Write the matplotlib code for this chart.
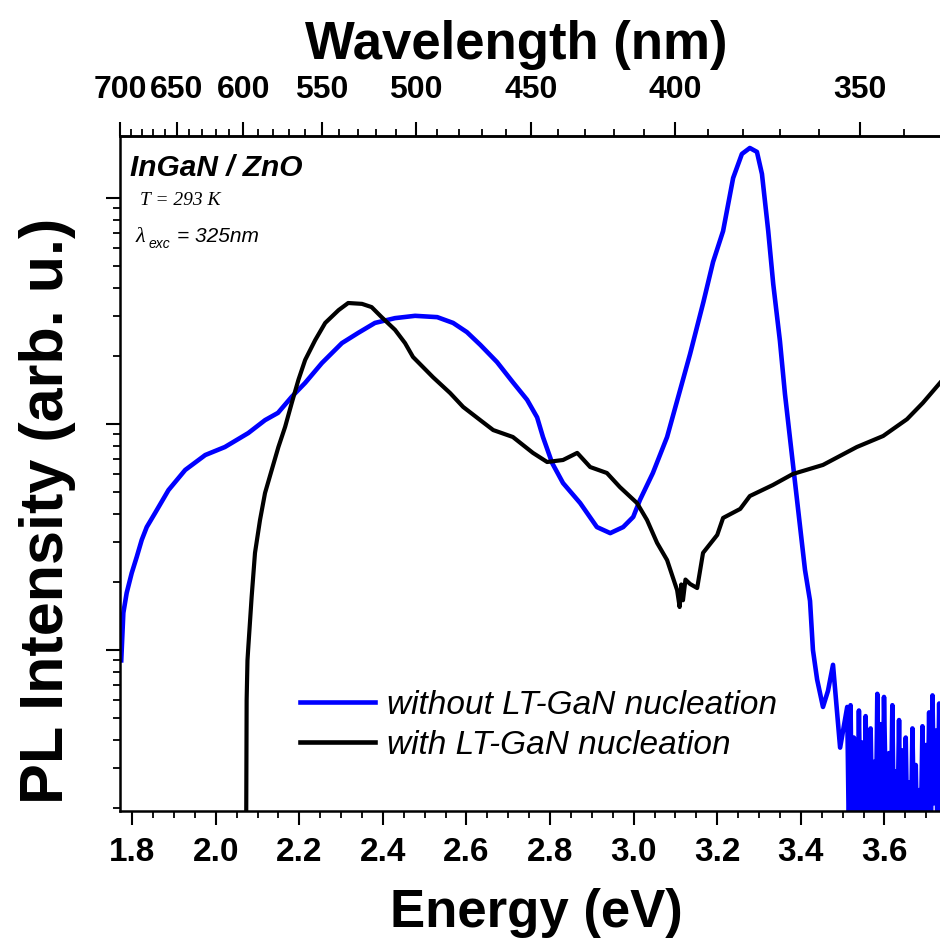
import numpy as np
import matplotlib
matplotlib.use("Agg")
import matplotlib.pyplot as plt
from matplotlib.ticker import FixedLocator, MultipleLocator, LogLocator, NullFormatter

plt.rcParams['font.family'] = ['Liberation Sans', 'DejaVu Sans']

# PL spectrum, sample grown without LT-GaN nucleation layer
blue_E = [1.774, 1.779, 1.787, 1.799, 1.811, 1.823, 1.835, 1.855, 1.887, 1.927,
          1.975, 2.022, 2.078, 2.118, 2.149, 2.182, 2.214, 2.254, 2.302, 2.341,
          2.381, 2.429, 2.477, 2.530, 2.568, 2.601, 2.633, 2.673, 2.711, 2.745,
          2.769, 2.783, 2.805, 2.831, 2.872, 2.912, 2.944, 2.975, 2.999, 3.015,
          3.046, 3.080, 3.111, 3.135, 3.167, 3.190, 3.214, 3.238, 3.259, 3.278,
          3.295, 3.307, 3.322, 3.334, 3.350, 3.362, 3.374, 3.386, 3.398, 3.410,
          3.422, 3.429, 3.439, 3.453, 3.465, 3.477, 3.494, 3.511]
blue_I = [9.0, 14.6, 17.9, 21.9, 25.8, 30.7, 35.0, 40.4, 51.0, 62.6,
          72.9, 79.1, 91.2, 104, 112, 132, 152, 186, 228, 253,
          280, 294, 301, 297, 280, 255, 224, 188, 153, 128,
          107, 87.6, 67.2, 54.8, 44.7, 35.0, 32.9, 35.0, 38.8, 46.1,
          60.7, 87.6, 141, 204, 347, 521, 714, 1225, 1566, 1664,
          1599, 1277, 714, 416, 233, 136, 86.7, 55.4, 35.4, 22.6,
          16.5, 10.0, 7.4, 5.6, 6.6, 8.6, 3.7, 5.6]

# noise floor above the band edge (same sample)
tail_E = [3.515, 3.519, 3.523, 3.527, 3.531, 3.535, 3.539, 3.543, 3.547, 3.551,
          3.555, 3.559, 3.563, 3.567, 3.571, 3.575, 3.579, 3.583, 3.587, 3.591,
          3.595, 3.599, 3.603, 3.607, 3.611, 3.615, 3.619, 3.623, 3.627, 3.631,
          3.635, 3.639, 3.643, 3.647, 3.651, 3.655, 3.659, 3.663, 3.667, 3.671,
          3.675, 3.679, 3.683, 3.687, 3.691, 3.695, 3.699, 3.703, 3.707, 3.711,
          3.715, 3.719, 3.723, 3.727, 3.731, 3.735]
tail_I = [1.5, 5.7, 1.3, 4.1, 2.2, 1.4, 5.4, 1.6, 3.9, 1.2,
          5.1, 2.0, 1.4, 4.5, 1.7, 3.2, 1.3, 6.4, 1.5, 4.7,
          1.2, 6.2, 2.4, 1.4, 3.5, 1.6, 5.7, 1.3, 2.9, 1.5,
          4.9, 1.2, 3.6, 1.7, 4.1, 1.4, 2.6, 1.3, 4.5, 1.6,
          3.1, 1.2, 2.4, 1.5, 4.6, 1.3, 3.8, 1.6, 5.3, 1.4,
          6.3, 2.1, 4.4, 1.5, 5.8, 1.6]

# PL spectrum, sample grown with LT-GaN nucleation layer
black_E = [2.0715, 2.074, 2.076, 2.078, 2.086, 2.094, 2.106, 2.118, 2.134, 2.150,
           2.166, 2.182, 2.198, 2.214, 2.238, 2.262, 2.294, 2.317, 2.350, 2.373,
           2.397, 2.429, 2.453, 2.472, 2.520, 2.561, 2.592, 2.633, 2.664, 2.711,
           2.759, 2.793, 2.831, 2.865, 2.896, 2.936, 2.967, 3.008, 3.032, 3.056,
           3.080, 3.104, 3.110, 3.114, 3.118, 3.124, 3.135, 3.152, 3.166, 3.200,
           3.214, 3.255, 3.278, 3.333, 3.381, 3.453, 3.534, 3.597, 3.654, 3.692,
           3.733]
black_I = [0.3, 6.0, 9.0, 10.3, 17.2, 26.9, 37.6, 49.5, 62.6, 79.1,
           97, 124, 157, 192, 235, 280, 319, 343, 340, 329,
           297, 261, 228, 198, 161, 137, 119, 104, 94.0, 87.6,
           74.5, 67.9, 69.3, 74.5, 64.5, 60.7, 52.6, 44.7, 37.6, 29.8,
           25.0, 18.4, 15.5, 19.5, 16.6, 20.5, 19.6, 18.8, 26.9, 32.3,
           38.4, 42.1, 48.0, 53.7, 60.1, 65.9, 79.1, 88.5, 105, 124,
           152]

energy_ticks = [1.8, 2.0, 2.2, 2.4, 2.6, 2.8, 3.0, 3.2, 3.4, 3.6]
wavelength_ticks = [700, 650, 600, 550, 500, 450, 400, 350]
label_without = "without LT-GaN nucleation"
label_with = "with LT-GaN nucleation"

HC = 1239.84  # eV*nm


def ev_to_nm(x):
    x = np.asarray(x, dtype=float)
    with np.errstate(divide='ignore'):
        return np.where(x != 0, HC / np.where(x != 0, x, 1.0), np.inf)


fig = plt.figure(figsize=(9.40, 9.44), dpi=100)
ax = fig.add_axes([120 / 940, 1 - 811 / 944, 820 / 940, 675 / 944])

ax.plot(blue_E + tail_E, blue_I + tail_I, color='#0000ff', lw=3.3,
        label=label_without, solid_joinstyle='round')
ax.plot(black_E, black_I, color='black', lw=3.0, label=label_with,
        solid_joinstyle='round')

ax.set_yscale('log')
ax.set_xlim(1.7710, 3.733)
ax.set_ylim(1.94, 1880)

ax.xaxis.set_major_locator(FixedLocator(energy_ticks))
ax.xaxis.set_minor_locator(MultipleLocator(0.05))
ax.yaxis.set_major_locator(LogLocator(base=10, numticks=10))
ax.yaxis.set_minor_locator(LogLocator(base=10, subs=np.arange(2, 10), numticks=20))
ax.yaxis.set_major_formatter(NullFormatter())
ax.yaxis.set_minor_formatter(NullFormatter())

for s in ['left', 'bottom', 'top']:
    ax.spines[s].set_linewidth(1.8)
ax.spines['right'].set_visible(False)

ax.tick_params(axis='both', which='major', direction='out', length=10, width=1.5)
ax.tick_params(axis='both', which='minor', direction='out', length=5, width=1.3)
ax.tick_params(axis='x', which='major', labelsize=24, pad=9)
ax.tick_params(axis='x', top=False, which='both')
for lab in ax.get_xticklabels():
    lab.set_fontweight('bold')

# wavelength scale on top
sec = ax.secondary_xaxis('top', functions=(ev_to_nm, ev_to_nm))
sec.xaxis.set_major_locator(FixedLocator(wavelength_ticks))
sec.xaxis.set_minor_locator(FixedLocator(list(range(340, 701, 10))))
sec.tick_params(which='major', direction='out', length=10, width=1.5,
                labelsize=23, pad=12)
sec.tick_params(which='minor', direction='out', length=5, width=1.3)
sec.spines['top'].set_linewidth(1.8)
sec.set_xticks(wavelength_ticks)
sec.set_xticklabels([str(w) for w in wavelength_ticks], fontweight='bold')

ax.set_xlabel("Energy (eV)", fontsize=38, fontweight='bold', labelpad=14)
ax.xaxis.label.set_x((536 - 120) / 820)
ax.set_ylabel("PL Intensity (arb. u.)", fontsize=44, fontweight='bold', labelpad=18)
ax.yaxis.label.set_y((811 - 511) / 675)
sec.set_xlabel("Wavelength (nm)", fontsize=38, fontweight='bold', labelpad=12)
sec.xaxis.label.set_x((516 - 120) / 820)

# sample annotation
ax.text(10 / 820, (811 - 176) / 675, "InGaN / ZnO", transform=ax.transAxes,
        fontsize=21.5, fontweight='bold', fontstyle='italic', va='baseline')
ax.text(20 / 820, (811 - 205) / 675, "T = 293 K", transform=ax.transAxes,
        fontsize=14, fontstyle='italic', family=['Liberation Serif', 'DejaVu Serif'],
        va='baseline')
ax.text(16 / 820, (811 - 242) / 675, "λ", transform=ax.transAxes,
        fontsize=16, fontstyle='italic', family=['Liberation Serif', 'DejaVu Serif'],
        va='baseline')
ax.text(29 / 820, (811 - 248) / 675, "exc", transform=ax.transAxes,
        fontsize=10, fontstyle='italic', va='baseline')
ax.text(57 / 820, (811 - 242) / 675, "= 325nm", transform=ax.transAxes,
        fontsize=15, fontstyle='italic', va='baseline')

leg = ax.legend(loc='upper left', bbox_to_anchor=(300 / 940, 1 - 690 / 944),
                bbox_transform=fig.transFigure, frameon=False,
                prop={'size': 24, 'style': 'italic'}, handlelength=2.25,
                handletextpad=0.35, labelspacing=0.26, borderpad=0, borderaxespad=0)
for line in leg.get_lines():
    line.set_linewidth(3.3)

fig.savefig("out.png", dpi=100)
